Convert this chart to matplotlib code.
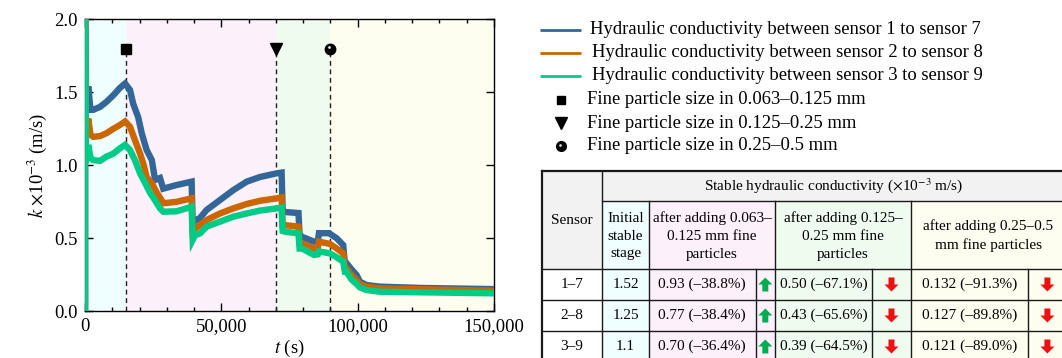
import matplotlib
matplotlib.use('Agg')
import matplotlib.pyplot as plt
from matplotlib.patches import Rectangle, Polygon
import matplotlib.transforms as mtransforms
from matplotlib.ticker import MultipleLocator, FixedLocator, FormatStrFormatter

plt.rcParams['font.family'] = ['Liberation Serif', 'DejaVu Serif']
plt.rcParams['mathtext.fontset'] = 'stix'

# ---------------- data ----------------
t_17 = [0, 0, 300, 1200, 2000, 3000, 5500, 7900, 10400, 12800, 14700, 16500, 17700,
        19500, 20800, 22600, 24500, 25700, 27500, 28700, 33600, 39100, 39500, 40300,
        42200, 44600, 49500, 54400, 59300, 64200, 70300, 72100, 72500, 73400, 78300,
        78700, 79600, 84000, 85400, 85800, 89500, 92300, 94700, 95300, 95900, 97700,
        99600, 100800, 103200, 108100, 122800, 150000]
k_17 = [0.0, 2.1, 1.40, 1.54, 1.38, 1.38, 1.40, 1.435, 1.48, 1.53, 1.56, 1.516, 1.42,
        1.33, 1.22, 1.105, 1.036, 0.90, 0.913, 0.84, 0.865, 0.888, 0.60, 0.62,
        0.64, 0.694, 0.762, 0.83, 0.888, 0.92, 0.945, 0.95, 0.69, 0.68, 0.673,
        0.52, 0.51, 0.477, 0.48, 0.535, 0.535, 0.50, 0.454, 0.33, 0.33, 0.288,
        0.249, 0.203, 0.18, 0.169, 0.16, 0.152]

t_28 = [0, 0, 300, 1200, 2000, 3000, 5500, 7900, 10400, 12800, 14700, 16500, 18300,
        20200, 21400, 22600, 24500, 26400, 28800, 33600, 39100, 39500, 40300, 42200,
        44600, 49500, 54400, 59300, 64200, 70300, 72100, 72500, 73400, 78300, 78700,
        79600, 84000, 85400, 85800, 89800, 92300, 94700, 95300, 95900, 97700, 99600,
        100800, 103200, 108100, 150000]
k_28 = [0.0, 2.1, 1.22, 1.32, 1.21, 1.195, 1.20, 1.22, 1.25, 1.276, 1.30, 1.264, 1.173,
        1.08, 1.01, 0.92, 0.877, 0.81, 0.74, 0.75, 0.774, 0.55, 0.565, 0.59,
        0.625, 0.67, 0.705, 0.735, 0.757, 0.774, 0.78, 0.59, 0.59, 0.58, 0.466,
        0.466, 0.43, 0.435, 0.477, 0.462, 0.43, 0.397, 0.295, 0.295, 0.249, 0.214,
        0.187, 0.169, 0.157, 0.141]

t_39 = [0, 0, 300, 1200, 2000, 3000, 5500, 7900, 10400, 12800, 14700, 16500, 18300,
        20200, 22100, 23900, 25700, 27500, 28700, 33600, 39100, 39500, 40300, 42200,
        44600, 49500, 54400, 59300, 64200, 70300, 72100, 72500, 73400, 78300, 78700,
        79600, 84000, 85400, 85800, 89800, 92300, 94700, 95300, 95900, 97700, 99600,
        100800, 103200, 108100, 150000]
k_39 = [0.0, 2.1, 1.02, 1.14, 1.05, 1.036, 1.03, 1.06, 1.08, 1.116, 1.14, 1.105, 1.036,
        0.945, 0.877, 0.81, 0.76, 0.705, 0.682, 0.685, 0.716, 0.49, 0.52, 0.534,
        0.58, 0.614, 0.648, 0.67, 0.69, 0.705, 0.71, 0.55, 0.545, 0.534, 0.43,
        0.43, 0.386, 0.39, 0.41, 0.397, 0.37, 0.34, 0.271, 0.271, 0.219, 0.187,
        0.164, 0.146, 0.134, 0.123]

series_labels = ['Hydraulic conductivity between sensor 1 to sensor 7',
                 'Hydraulic conductivity between sensor 2 to sensor 8',
                 'Hydraulic conductivity between sensor 3 to sensor 9']
series_colors = ['#336699', '#cc6600', '#00cc88']

stage_edges = [0, 15000, 70000, 90000, 150000]
stage_colors = ['#effefe', '#fcf0fb', '#f0fbf0', '#fefef0']

event_t = [15000, 70000, 90000]
event_k = 1.8
event_labels = ['Fine particle size in 0.063–0.125 mm',
                'Fine particle size in 0.125–0.25 mm',
                'Fine particle size in 0.25–0.5 mm']

xticks = [0, 50000, 100000, 150000]
xticklabels = ['0', '50,000', '100,000', '150,000']
yticks = [0.0, 0.5, 1.0, 1.5, 2.0]

tbl_sensor = ['1–7', '2–8', '3–9']
tbl_initial = ['1.52', '1.25', '1.1']
tbl_after_063 = ['0.93 (–38.8%)', '0.77 (–38.4%)', '0.70 (–36.4%)']
tbl_after_125 = ['0.50 (–67.1%)', '0.43 (–65.6%)', '0.39 (–64.5%)']
tbl_after_25 = ['0.132 (–91.3%)', '0.127 (–89.8%)', '0.121 (–89.0%)']
trend_063 = ['up', 'up', 'up']
trend_125 = ['down', 'down', 'down']
trend_25 = ['down', 'down', 'down']

# ---------------- figure ----------------
W, H = 1062, 358
fig = plt.figure(figsize=(W / 100, H / 100), dpi=100)

ax_l, ax_r, ax_t, ax_b = 85, 494, 19.3, 311.3
ax = fig.add_axes([ax_l / W, (H - ax_b) / H, (ax_r - ax_l) / W, (ax_b - ax_t) / H])

for i in range(len(stage_colors)):
    ax.axvspan(stage_edges[i], stage_edges[i + 1], color=stage_colors[i], lw=0, zorder=0)

for tt, kk, c in zip([t_17, t_28, t_39], [k_17, k_28, k_39], series_colors):
    ax.plot(tt, kk, color=c, lw=4.6, solid_joinstyle='miter', zorder=3)

for x in event_t:
    ax.plot([x, x], [0, 1.77], color='#222222', lw=1.0, ls=(0, (3.5, 2.6)), zorder=2)

ax.plot([event_t[0]], [event_k], marker='s', color='black', ms=6.8, zorder=5, clip_on=False)
ax.plot([event_t[1]], [event_k], marker='v', color='black', ms=8.5, zorder=5, clip_on=False)
ax.plot([event_t[2]], [event_k], marker='o', color='black', ms=7.5, zorder=5, clip_on=False)
hl = mtransforms.offset_copy(ax.transData, fig=fig, x=-1.6, y=1.6, units='dots')
ax.plot([event_t[2]], [event_k], marker='o', color='#e8e8e8', ms=2.0, mew=0,
        transform=hl, zorder=6, clip_on=False)

ax.set_xlim(0, 150000)
ax.set_ylim(0, 2.0)
ax.xaxis.set_major_locator(FixedLocator(xticks))
ax.set_xticklabels(xticklabels)
ax.xaxis.set_minor_locator(MultipleLocator(10000))
ax.yaxis.set_major_locator(FixedLocator(yticks))
ax.yaxis.set_major_formatter(FormatStrFormatter('%.1f'))
ax.tick_params(which='both', direction='in', top=True, right=True, width=1.0,
               labelsize=13.4, pad=5)
ax.tick_params(which='major', length=6)
ax.tick_params(which='minor', length=3)
for sp in ax.spines.values():
    sp.set_linewidth(1.0)
ax.set_xlabel(r'$t$ (s)', fontsize=13.4, labelpad=2)
ax.set_ylabel(r'$k$ $\times$10$^{-3}$ (m/s)', fontsize=13.4, labelpad=4)

# ---------------- overlay in pixel coordinates ----------------
ov = fig.add_axes([0, 0, 1, 1])
ov.set_xlim(0, W)
ov.set_ylim(H, 0)
ov.axis('off')
ov.patch.set_alpha(0)

# legend
leg_rows = [30, 52.5, 76, 99.5, 123, 146]
for i, (lab, c) in enumerate(zip(series_labels, series_colors)):
    y = leg_rows[i]
    ov.plot([540, 581], [y, y], color=c, lw=2.0, solid_capstyle='butt')
    ov.text(590 + (0 if i == 0 else 2), y, lab, fontsize=13.4, va='center', ha='left')
ov.plot([561], [leg_rows[3]], marker='s', color='black', ms=6.3)
ov.plot([561], [leg_rows[4]], marker='v', color='black', ms=8.0)
ov.plot([561], [leg_rows[5]], marker='o', color='black', ms=7.0)
hl2 = mtransforms.offset_copy(ov.transData, fig=fig, x=-1.5, y=1.5, units='dots')
ov.plot([561], [leg_rows[5]], marker='o', color='#e8e8e8', ms=1.9, mew=0, transform=hl2)
for i, lab in enumerate(event_labels):
    ov.text(587, leg_rows[3 + i], lab, fontsize=13.4, va='center', ha='left')

# table geometry (pixels)
xL, xS, xI, xG, xY, xR = 541.5, 602, 649, 775, 911, 1066
xPa, xGa, xYa = 755.6, 872, 1027.8
yT, y1, y2 = 171, 201, 269
row_h = 31
yB = y2 + 3 * row_h + 2
ylines = [y2 + row_h * i for i in range(4)]

gray = '#f2f2f2'
cyan, pink, green, yellow = stage_colors

def rect(x0, y0, x1, y1, c):
    ov.add_patch(Rectangle((x0, y0), x1 - x0, y1 - y0, facecolor=c, edgecolor='none',
                           clip_on=False, zorder=1))

rect(xL, yT, xS, y2, gray)
rect(xS, yT, xR, y1, gray)
rect(xS, y1, xI, yB, cyan)
rect(xI, y1, xG, yB, pink)
rect(xG, y1, xY, yB, green)
rect(xY, y1, xR, yB, yellow)
rect(xL, y2, xS, yB, 'white')

lc = '#1a1a1a'
def hline(y, x0, x1, lw=1.0):
    ov.plot([x0, x1], [y, y], color=lc, lw=lw, clip_on=False, zorder=3, solid_capstyle='projecting')
def vline(x, y0, y1, lw=1.0):
    ov.plot([x, x], [y0, y1], color=lc, lw=lw, clip_on=False, zorder=3, solid_capstyle='projecting')

hline(yT, xL, xR, 1.6)
vline(xL, yT, yB, 1.6)
hline(y1, xS, xR)
for y in ylines[:-1]:
    hline(y, xL, xR)
vline(xS, yT, yB)
for x in (xI, xG, xY):
    vline(x, y1, yB)
for x in (xPa, xGa, xYa):
    vline(x, y2, yB)

fs = 11
ls_hdr = 1.48
hdr_cy = (y1 + y2) / 2 + 1
ov.text((xL + xS) / 2, (yT + y2) / 2, 'Sensor', fontsize=fs, ha='center', va='center')
ov.text((xS + xR) / 2, (yT + y1) / 2, r'Stable hydraulic conductivity ($\times$10$^{-3}$ m/s)',
        fontsize=fs, ha='center', va='center')
ov.text((xS + xI) / 2, hdr_cy, 'Initial\nstable\nstage', fontsize=fs, ha='center',
        va='center', linespacing=ls_hdr)
ov.text((xI + xG) / 2, hdr_cy, 'after adding 0.063–\n0.125 mm fine\nparticles',
        fontsize=fs, ha='center', va='center', linespacing=ls_hdr)
ov.text((xG + xY) / 2, hdr_cy, 'after adding 0.125–\n0.25 mm fine\nparticles',
        fontsize=fs, ha='center', va='center', linespacing=ls_hdr)
ov.text((xY + xR) / 2, hdr_cy, 'after adding 0.25–0.5\nmm fine particles',
        fontsize=fs, ha='center', va='center', linespacing=ls_hdr)

def arrow(cx, cy, direction):
    hw, sw = 7.0, 3.0
    if direction == 'up':
        pts = [(cx, cy - 7), (cx + hw, cy), (cx + sw, cy), (cx + sw, cy + 7),
               (cx - sw, cy + 7), (cx - sw, cy), (cx - hw, cy)]
        col = '#00b050'
    else:
        pts = [(cx, cy + 7), (cx + hw, cy), (cx + sw, cy), (cx + sw, cy - 7),
               (cx - sw, cy - 7), (cx - sw, cy), (cx - hw, cy)]
        col = '#ee1111'
    ov.add_patch(Polygon(pts, closed=True, facecolor=col, edgecolor='none', clip_on=False, zorder=4))

for i in range(3):
    cy = ylines[i] + row_h / 2
    ov.text((xL + xS) / 2, cy, tbl_sensor[i], fontsize=fs, ha='center', va='center')
    ov.text((xS + xI) / 2, cy, tbl_initial[i], fontsize=fs, ha='center', va='center')
    ov.text((xI + xPa) / 2, cy, tbl_after_063[i], fontsize=fs, ha='center', va='center')
    ov.text((xG + xGa) / 2, cy, tbl_after_125[i], fontsize=fs, ha='center', va='center')
    ov.text((xY + xYa) / 2, cy, tbl_after_25[i], fontsize=fs, ha='center', va='center')
    arrow((xPa + xG) / 2, cy, trend_063[i])
    arrow((xGa + xY) / 2, cy, trend_125[i])
    arrow((xYa + 1067) / 2, cy, trend_25[i])

fig.savefig('out.png', dpi=100)
